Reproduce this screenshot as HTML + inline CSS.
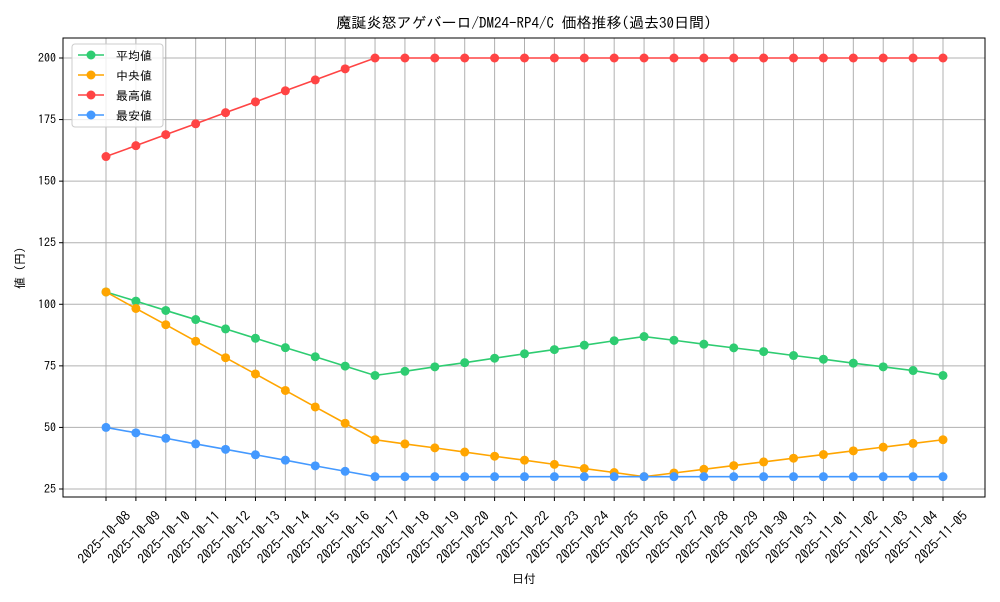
<!DOCTYPE html>
<html><head><meta charset="utf-8">
<style>
body{margin:0;background:#fff;font-family:"IPAGothic","Noto Sans CJK JP",sans-serif;}
svg text{font-family:"IPAGothic","Noto Sans CJK JP",sans-serif;}
</style></head><body>
<svg id="chart" width="1000" height="600" xmlns="http://www.w3.org/2000/svg">
<rect width="1000" height="600" fill="#fff"/>
<text x="524" y="28" text-anchor="middle" font-size="15">魔誕炎怒アゲバーロ/DM24-RP4/C 価格推移(過去30日間)</text>
<g id="grid"></g>
<g id="marks"></g>
<rect x="63" y="38" width="922" height="459" fill="none" stroke="#000" stroke-width="1"/>
<text x="524" y="583" text-anchor="middle" font-size="12">日付</text>
<text transform="translate(24,268) rotate(-90)" text-anchor="middle" font-size="12">値 (円)</text>
<g id="legend"></g>
</svg>
<script>
const dates=["2025-10-08","2025-10-09","2025-10-10","2025-10-11","2025-10-12","2025-10-13","2025-10-14","2025-10-15","2025-10-16","2025-10-17","2025-10-18","2025-10-19","2025-10-20","2025-10-21","2025-10-22","2025-10-23","2025-10-24","2025-10-25","2025-10-26","2025-10-27","2025-10-28","2025-10-29","2025-10-30","2025-10-31","2025-11-01","2025-11-02","2025-11-03","2025-11-04","2025-11-05"];
const avgVals=[105,101.3,97.5,93.8,90,86.2,82.4,78.7,74.9,71.1,72.8,74.6,76.3,78.1,79.9,81.6,83.4,85.2,86.9,85.4,83.8,82.3,80.8,79.2,77.7,76.1,74.6,73.1,71.1];
const medVals=[105,98.3,91.7,85,78.3,71.7,65,58.3,51.7,45,43.3,41.7,40,38.3,36.7,35,33.3,31.7,30,31.5,33,34.5,36,37.5,39,40.5,42,43.5,45];
const maxVals=[160,164.4,168.9,173.3,177.8,182.2,186.7,191.1,195.6,200,200,200,200,200,200,200,200,200,200,200,200,200,200,200,200,200,200,200,200];
const minVals=[50,47.8,45.6,43.3,41.1,38.9,36.7,34.4,32.2,30,30,30,30,30,30,30,30,30,30,30,30,30,30,30,30,30,30,30,30];
const yTicks=[25,50,75,100,125,150,175,200];
const seriesNames=["平均値","中央値","最高値","最安値"];
const NS="http://www.w3.org/2000/svg";
const xs=i=>106+i*(943-106)/(dates.length-1);
const ys=v=>489-(v-25)*(489-58)/175;
function mk(t,a,p){const e=document.createElementNS(NS,t);for(const k in a)e.setAttribute(k,a[k]);p.appendChild(e);return e;}
const grid=document.getElementById('grid'),marks=document.getElementById('marks'),lg=document.getElementById('legend');
dates.forEach((d,i)=>{
  const x=xs(i);
  const l=mk('line',{x1:x,x2:x,y1:38,y2:497,stroke:'#b0b0b0','stroke-width':1},grid);
  
  
  mk('line',{x1:x,x2:x,y1:497,y2:501,stroke:'#000'},grid);
  const cx=x-2,cy=537;
  const t=mk('text',{x:cx,y:cy,'font-size':13.5,'text-anchor':'middle','dominant-baseline':'central',transform:`rotate(-45 ${cx} ${cy})`},grid);
  t.textContent=d;
  
  
});
yTicks.forEach(v=>{
  const y=ys(v);
  const l=mk('line',{x1:63,x2:985,y1:y,y2:y,stroke:'#b0b0b0','stroke-width':1},grid);
  
  
  mk('line',{x1:59,x2:63,y1:y,y2:y,stroke:'#000'},grid);
  const t=mk('text',{x:56,y:y+4,'font-size':12,'text-anchor':'end'},grid);
  t.textContent=v;
  
  
});
const series=[[avgVals,'#2ecc71','average'],[medVals,'#ffa500','median'],[maxVals,'#ff4444','max'],[minVals,'#4499ff','min']];
series.forEach(([vals,c,n],si)=>{
  const g=mk('g',{},marks);
  
  
  mk('polyline',{points:vals.map((v,i)=>xs(i)+','+ys(v)).join(' '),fill:'none',stroke:c,'stroke-width':1.6},g);
  vals.forEach((v,i)=>{
    const p=mk('circle',{cx:xs(i),cy:ys(v),r:4.5,fill:c},g);
    
    
  });
  const ly=55+si*20;
  mk('line',{x1:78,x2:104,y1:ly,y2:ly,stroke:c,'stroke-width':1.6},lg);
  mk('circle',{cx:91,cy:ly,r:4.5,fill:c},lg);
  const t=mk('text',{x:116,y:ly+5,'font-size':12},lg);
  t.textContent=seriesNames[si];
  
  
});
const fr=mk('rect',{x:72,y:44,width:91,height:83,rx:3,fill:'#fff','fill-opacity':0.8,stroke:'#ccc'},lg);
lg.insertBefore(fr,lg.firstChild);
</script>
</body></html>
